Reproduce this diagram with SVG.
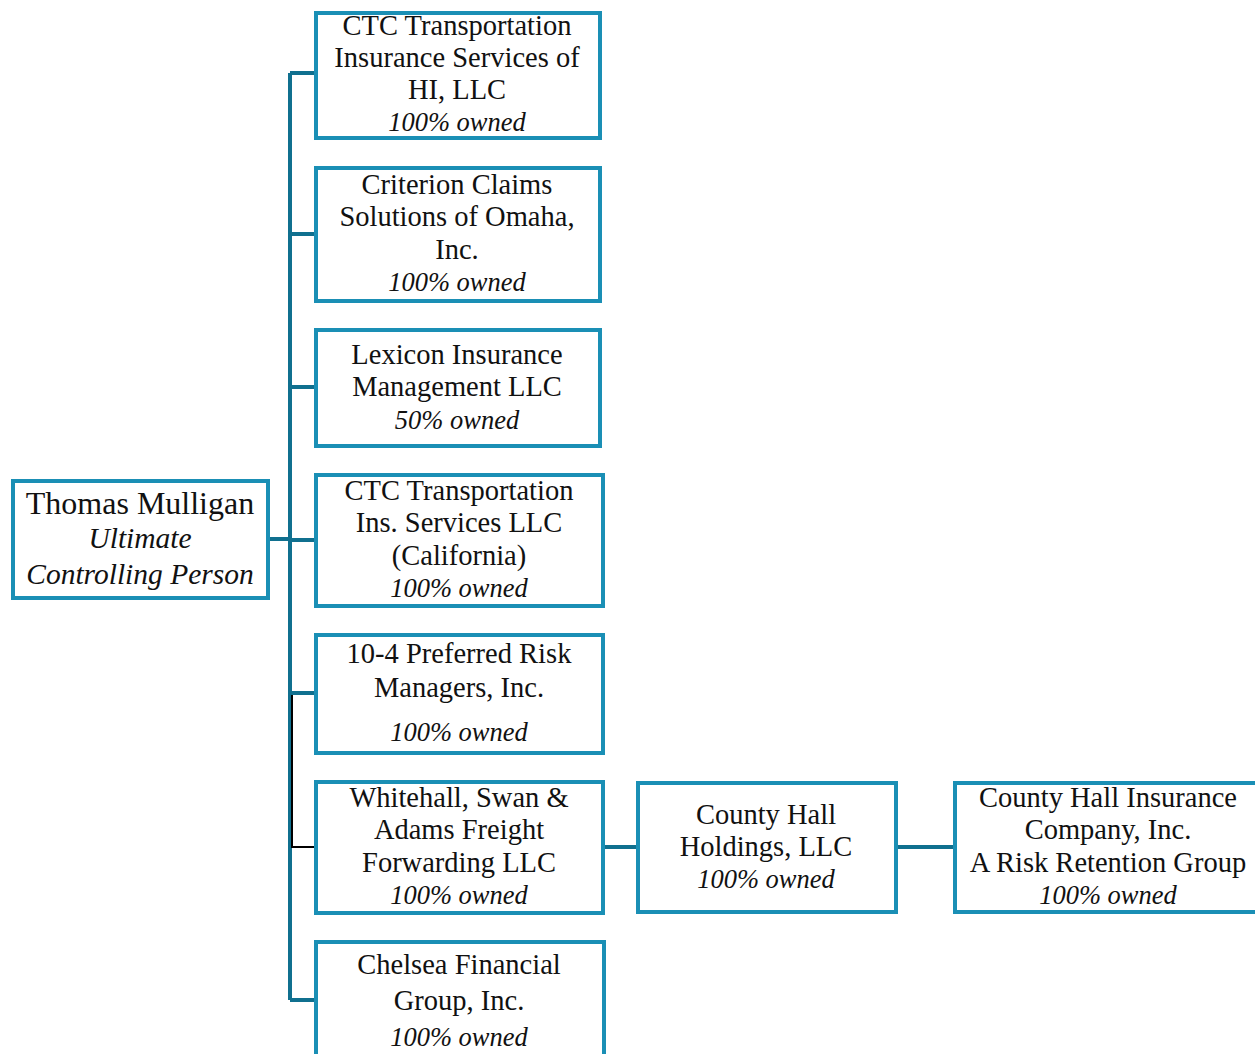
<svg xmlns="http://www.w3.org/2000/svg" width="1255" height="1054" viewBox="0 0 1255 1054">
<style>
.box{fill:#fff;stroke:#1a8fb5;stroke-width:4}
.t{font-family:"Liberation Serif","Times New Roman",serif;font-size:28.5px;fill:#111;text-anchor:middle}
.i{font-style:italic;font-size:26.5px}
.r{font-size:32px}
.ri{font-style:italic;font-size:29.5px}
.c{stroke:#10708f;stroke-width:4;fill:none}
.k{stroke:#000;stroke-width:2;fill:none}
</style>
<rect width="1255" height="1054" fill="#fff"/>
<g id="connectors">
<path class="c" d="M268 539H290M290 73V1000M290 73H315M290 234H315M290 387H315M290 540H315M290 693H315M290 1000H315"/>
<path class="k" d="M292 695V847H316"/>
<path class="c" d="M603 847H637M896 847H954"/>
</g>
<g id="root">
<rect class="box" x="13" y="481" width="255" height="117"/>
<text class="t r" x="140" y="514">Thomas Mulligan</text>
<text class="t ri" x="140" y="548">Ultimate</text>
<text class="t ri" x="140" y="584">Controlling Person</text>
</g>
<g id="ctc-hi">
<rect class="box" x="316" y="13" width="284" height="125"/>
<text class="t" x="457" y="35">CTC Transportation</text>
<text class="t" x="457" y="67">Insurance Services of</text>
<text class="t" x="457" y="99">HI, LLC</text>
<text class="t i" x="457" y="131">100% owned</text>
</g>
<g id="criterion">
<rect class="box" x="316" y="168" width="284" height="133"/>
<text class="t" x="457" y="194">Criterion Claims</text>
<text class="t" x="457" y="226">Solutions of Omaha,</text>
<text class="t" x="457" y="259">Inc.</text>
<text class="t i" x="457" y="291">100% owned</text>
</g>
<g id="lexicon">
<rect class="box" x="316" y="330" width="284" height="116"/>
<text class="t" x="457" y="364">Lexicon Insurance</text>
<text class="t" x="457" y="396">Management LLC</text>
<text class="t i" x="457" y="429">50% owned</text>
</g>
<g id="ctc-ca">
<rect class="box" x="316" y="475" width="287" height="131"/>
<text class="t" x="459" y="500">CTC Transportation</text>
<text class="t" x="459" y="532">Ins. Services LLC</text>
<text class="t" x="459" y="565">(California)</text>
<text class="t i" x="459" y="597">100% owned</text>
</g>
<g id="ten-four">
<rect class="box" x="316" y="635" width="287" height="118"/>
<text class="t" x="459" y="663">10-4 Preferred Risk</text>
<text class="t" x="459" y="697">Managers, Inc.</text>
<text class="t i" x="459" y="741">100% owned</text>
</g>
<g id="whitehall">
<rect class="box" x="316" y="782" width="287" height="131"/>
<text class="t" x="459" y="807">Whitehall, Swan &amp;</text>
<text class="t" x="459" y="839">Adams Freight</text>
<text class="t" x="459" y="872">Forwarding LLC</text>
<text class="t i" x="459" y="904">100% owned</text>
</g>
<g id="chelsea">
<rect class="box" x="316" y="942" width="288" height="130"/>
<text class="t" x="459" y="974">Chelsea Financial</text>
<text class="t" x="459" y="1010">Group, Inc.</text>
<text class="t i" x="459" y="1046">100% owned</text>
</g>
<g id="county-hall-holdings">
<rect class="box" x="638" y="783" width="258" height="129"/>
<text class="t" x="766" y="824">County Hall</text>
<text class="t" x="766" y="856">Holdings, LLC</text>
<text class="t i" x="766" y="888">100% owned</text>
</g>
<g id="county-hall-insurance">
<rect class="box" x="955" y="783" width="310" height="129"/>
<text class="t" x="1108" y="807">County Hall Insurance</text>
<text class="t" x="1108" y="839">Company, Inc.</text>
<text class="t" x="1108" y="872">A Risk Retention Group</text>
<text class="t i" x="1108" y="904">100% owned</text>
</g>
</svg>
